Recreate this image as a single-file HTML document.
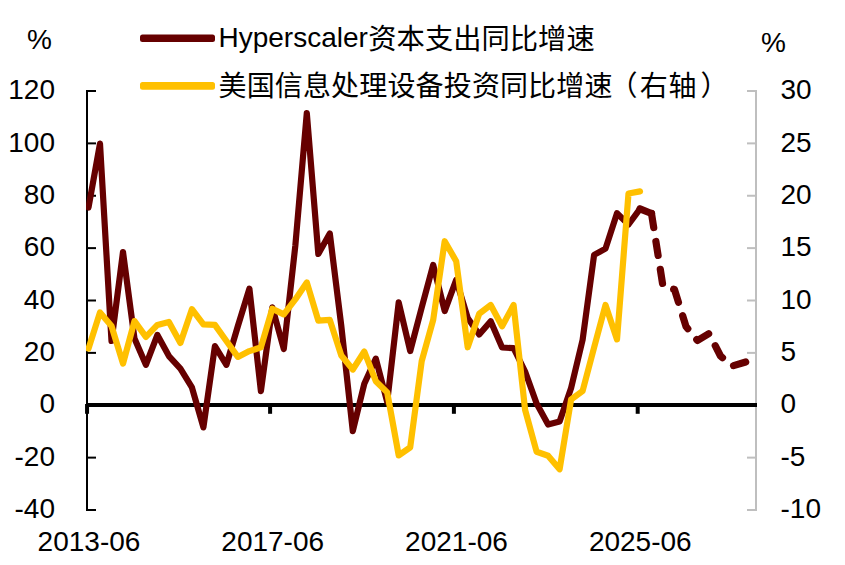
<!DOCTYPE html>
<html lang="zh"><head><meta charset="utf-8"><title>Hyperscaler资本支出同比增速</title>
<style>html,body{margin:0;padding:0;background:#fff}body{width:845px;height:565px;overflow:hidden}svg{display:block}text{font-family:"Liberation Sans","Noto Sans CJK SC",sans-serif;font-size:28px;fill:#000}</style></head><body>
<svg width="845" height="565" viewBox="0 0 845 565">
<rect width="845" height="565" fill="#fff"/>
<g stroke="#BFBFBF" stroke-width="2" fill="none">
<line x1="756" y1="90" x2="756" y2="511"/>
<line x1="747" y1="91.00" x2="756" y2="91.00"/>
<line x1="747" y1="143.38" x2="756" y2="143.38"/>
<line x1="747" y1="195.75" x2="756" y2="195.75"/>
<line x1="747" y1="248.12" x2="756" y2="248.12"/>
<line x1="747" y1="300.50" x2="756" y2="300.50"/>
<line x1="747" y1="352.88" x2="756" y2="352.88"/>
<line x1="747" y1="405.25" x2="756" y2="405.25"/>
<line x1="747" y1="457.62" x2="756" y2="457.62"/>
<line x1="747" y1="510.00" x2="756" y2="510.00"/>
</g>
<g stroke="#000" stroke-width="2" fill="none">
<line x1="87" y1="90" x2="87" y2="511"/>
<line x1="86" y1="91.00" x2="96" y2="91.00"/>
<line x1="86" y1="143.38" x2="96" y2="143.38"/>
<line x1="86" y1="195.75" x2="96" y2="195.75"/>
<line x1="86" y1="248.12" x2="96" y2="248.12"/>
<line x1="86" y1="300.50" x2="96" y2="300.50"/>
<line x1="86" y1="352.88" x2="96" y2="352.88"/>
<line x1="86" y1="405.25" x2="96" y2="405.25"/>
<line x1="86" y1="457.62" x2="96" y2="457.62"/>
<line x1="86" y1="510.00" x2="96" y2="510.00"/>
</g>
<g stroke="#000" stroke-width="4" fill="none">
<line x1="86" y1="405" x2="757" y2="405"/>
<line x1="87.05" y1="404" x2="87.05" y2="413.8"/>
<line x1="270.1" y1="404" x2="270.1" y2="413.8"/>
<line x1="453.9" y1="404" x2="453.9" y2="413.8"/>
<line x1="637.7" y1="404" x2="637.7" y2="413.8"/>
</g>
<clipPath id="pa"><rect x="86" y="60" width="680" height="460"/></clipPath>
<g fill="none" stroke-linejoin="round" stroke-linecap="round" stroke-width="6.2">
<g clip-path="url(#pa)">
<path stroke="#660000" d="M88.5,207.5 L100.0,143.6 L111.5,341.0 L123.0,252.0 L134.5,338.6 L145.9,364.8 L157.4,334.9 L168.9,356.1 L180.4,368.6 L191.9,387.4 L203.4,427.4 L214.9,346.1 L226.4,364.8 L237.9,326.0 L249.4,288.7 L260.9,391.2 L272.3,307.4 L283.8,349.0 L295.3,246.0 L306.8,113.0 L318.3,254.0 L329.8,233.5 L341.3,326.0 L352.8,431.1 L364.3,383.7 L375.8,358.6 L387.2,402.0 L398.7,302.4 L410.2,351.1 L421.7,307.5 L433.2,264.9 L444.7,311.1 L456.2,279.9 L467.7,318.0 L479.2,334.5 L490.7,321.2 L502.1,347.5 L513.6,348.2 L525.1,371.5 L536.6,403.5 L548.1,424.5 L559.6,421.6 L571.1,388.0 L582.6,339.9 L594.1,254.9 L605.5,248.6 L617.0,213.3 L628.5,224.5 L640.0,208.9"/>
<path stroke="#660000" stroke-width="7.2" d="M640.0,208.9 L651.5,213.5"/>
<path stroke="#660000" stroke-width="7.2" stroke-dasharray="14.2 14.1" d="M651.5,213.5 L663.0,286.5 L674.5,289.5 L686.0,326.5 L697.5,340.5 L709.0,333.5 L720.5,356.0 L732.4,366.0 L745.7,362.0"/>
<path stroke="#FFC000" d="M88.5,348.6 L100.0,312.4 L111.5,326.0 L123.0,363.6 L134.5,321.1 L145.9,336.9 L157.4,324.9 L168.9,321.9 L180.4,342.9 L191.9,309.2 L203.4,324.4 L214.9,324.9 L226.4,341.0 L237.9,356.9 L249.4,351.1 L260.9,347.4 L272.3,308.7 L283.8,314.4 L295.3,299.4 L306.8,282.4 L318.3,320.6 L329.8,319.9 L341.3,355.5 L352.8,369.5 L364.3,351.5 L375.8,381.2 L387.2,392.4 L398.7,455.4 L410.2,447.4 L421.7,361.2 L433.2,319.9 L444.7,241.2 L456.2,261.2 L467.7,347.3 L479.2,313.7 L490.7,305.0 L502.1,326.2 L513.6,305.0 L525.1,409.9 L536.6,451.8 L548.1,455.7 L559.6,469.3 L571.1,399.5 L582.6,391.0 L594.1,347.5 L605.5,305.0 L617.0,339.4 L628.5,193.5 L640.0,191.4"/>
</g>
<rect fill="#660000" stroke="none" x="140" y="34.6" width="75" height="7.5" rx="2.5"/>
<rect fill="#FFC000" stroke="none" x="140" y="82.1" width="75" height="7.6" rx="2.5"/>
</g>
<text x="55" y="99.1" text-anchor="end">120</text>
<text x="55" y="151.5" text-anchor="end">100</text>
<text x="55" y="203.8" text-anchor="end">80</text>
<text x="55" y="256.2" text-anchor="end">60</text>
<text x="55" y="308.6" text-anchor="end">40</text>
<text x="55" y="361.0" text-anchor="end">20</text>
<text x="55" y="413.4" text-anchor="end">0</text>
<text x="55" y="465.7" text-anchor="end">-20</text>
<text x="55" y="518.1" text-anchor="end">-40</text>
<text x="780.5" y="99.1">30</text>
<text x="780.5" y="151.5">25</text>
<text x="780.5" y="203.8">20</text>
<text x="780.5" y="256.2">15</text>
<text x="780.5" y="308.6">10</text>
<text x="780.5" y="361.0">5</text>
<text x="780.5" y="413.4">0</text>
<text x="780.5" y="465.7">-5</text>
<text x="780.5" y="518.1">-10</text>
<text x="27" y="49">%</text>
<text x="761" y="52">%</text>
<text x="89" y="550.8" text-anchor="middle">2013-06</text>
<text x="272.7" y="550.8" text-anchor="middle">2017-06</text>
<text x="456.5" y="550.8" text-anchor="middle">2021-06</text>
<text x="640.3" y="550.8" text-anchor="middle">2025-06</text>
<text x="218.5" y="47.3">Hyperscaler</text>
<text x="368.3" y="49" style="font-size:28.3px">资本支出同比增速</text>
<text x="218.5 246.7 274.8 302.9 331.1 359.2 387.4 415.5 443.7 471.9 500.0 528.1 556.3 584.5 609.4 639.7 668.4 700.6" y="96">美国信息处理设备投资同比增速（右轴）</text>
</svg></body></html>
